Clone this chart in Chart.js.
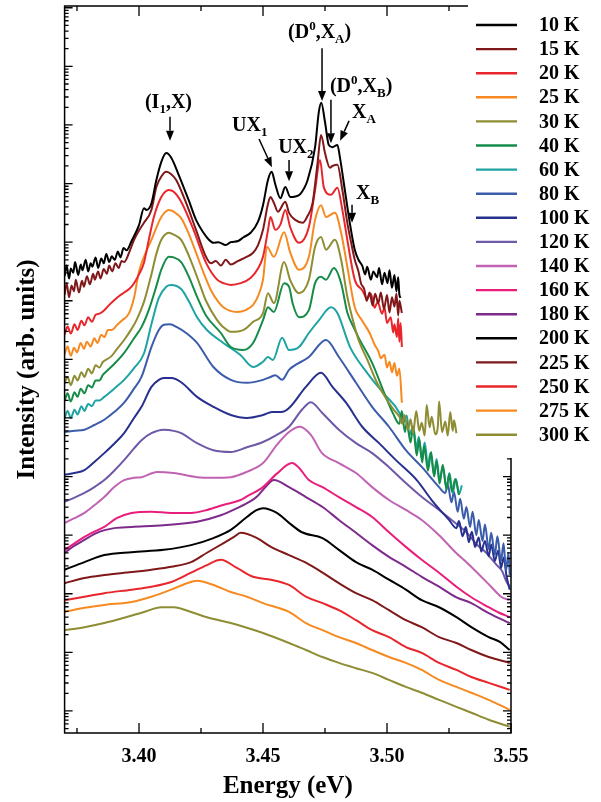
<!DOCTYPE html>
<html>
<head>
<meta charset="utf-8">
<script src="https://cdn.jsdelivr.net/npm/chart.js@4.4.1/dist/chart.umd.min.js"></script>
<style>
html, body { margin: 0; padding: 0; background: #fff; }
#chart { display: block; }
</style>
</head>
<body>
<canvas id="chart" width="601" height="802"></canvas>
<script>
// PL spectra, [energy (eV), log10 intensity (arb. units)]
const k10 = [[3.370,8.42],[3.3708,8.60],[3.3718,8.38],[3.3725,8.55],[3.3735,8.48],[3.3742,8.66],[3.3755,8.44],[3.3765,8.62],[3.3772,8.52],[3.3785,8.70],[3.3795,8.50],[3.3805,8.64],[3.3812,8.58],[3.3825,8.74],[3.3835,8.56],[3.3848,8.72],[3.3858,8.64],[3.3868,8.80],[3.388,8.66],[3.389,8.76],[3.3902,8.70],[3.3915,8.84],[3.3925,8.74],[3.3938,8.90],[3.395,8.86],[3.397,9.02],[3.400,9.29],[3.402,9.58],[3.403,9.55],[3.405,9.66],[3.407,10.06],[3.409,10.37],[3.411,10.52],[3.413,10.44],[3.416,10.15],[3.420,9.72],[3.423,9.38],[3.426,9.16],[3.428,9.05],[3.430,8.99],[3.432,9.00],[3.435,8.95],[3.437,9.00],[3.440,9.02],[3.442,9.08],[3.445,9.16],[3.448,9.35],[3.450,9.63],[3.452,10.06],[3.4535,10.20],[3.455,9.98],[3.457,9.75],[3.459,9.94],[3.461,9.77],[3.463,9.78],[3.465,9.82],[3.468,10.06],[3.471,10.62],[3.4725,11.22],[3.4735,11.38],[3.475,11.05],[3.4765,10.66],[3.478,10.62],[3.480,10.66],[3.481,10.45],[3.483,9.89],[3.485,9.33],[3.487,8.87],[3.4885,8.70],[3.490,8.60],[3.4912,8.45],[3.492,8.58],[3.4935,8.36],[3.4945,8.50],[3.496,8.40],[3.4968,8.56],[3.498,8.28],[3.499,8.48],[3.5002,8.30],[3.501,8.52],[3.502,8.22],[3.503,8.44],[3.5038,8.16],[3.5045,8.40],[3.505,8.10],[3.5055,8.05]];
const k15 = [[3.370,8.10],[3.3708,8.30],[3.3718,8.06],[3.3728,8.26],[3.3738,8.16],[3.3745,8.36],[3.3758,8.14],[3.377,8.34],[3.3778,8.24],[3.379,8.42],[3.3802,8.28],[3.3815,8.46],[3.3822,8.36],[3.3835,8.50],[3.3845,8.38],[3.3858,8.54],[3.387,8.46],[3.388,8.60],[3.3892,8.50],[3.3905,8.64],[3.3918,8.56],[3.393,8.68],[3.394,8.66],[3.396,8.82],[3.398,9.04],[3.400,9.20],[3.402,9.33],[3.405,9.55],[3.407,9.94],[3.409,10.12],[3.411,10.20],[3.413,10.16],[3.415,10.06],[3.419,9.67],[3.423,9.21],[3.427,8.75],[3.429,8.64],[3.431,8.68],[3.433,8.60],[3.435,8.70],[3.437,8.62],[3.440,8.68],[3.443,8.74],[3.446,8.82],[3.448,8.95],[3.450,9.21],[3.452,9.65],[3.453,9.77],[3.4545,9.66],[3.456,9.52],[3.459,9.69],[3.4605,9.50],[3.463,9.38],[3.466,9.33],[3.468,9.45],[3.470,9.67],[3.472,10.35],[3.4734,10.83],[3.475,10.52],[3.477,10.27],[3.478,10.30],[3.480,10.32],[3.482,9.89],[3.484,9.33],[3.4855,9.00],[3.487,8.70],[3.4885,8.50],[3.4895,8.30],[3.4908,8.20],[3.4918,8.00],[3.493,8.14],[3.4942,7.92],[3.4952,8.12],[3.4965,7.96],[3.4975,8.14],[3.4988,7.86],[3.500,8.10],[3.501,7.80],[3.502,8.06],[3.503,7.90],[3.5038,8.12],[3.5045,7.75],[3.505,8.00],[3.506,7.79]];
const k20 = [[3.370,7.42],[3.3712,7.56],[3.3725,7.44],[3.374,7.60],[3.3752,7.50],[3.3768,7.66],[3.378,7.58],[3.3795,7.72],[3.381,7.64],[3.3825,7.76],[3.384,7.78],[3.386,7.84],[3.388,7.93],[3.390,8.01],[3.392,8.08],[3.394,8.14],[3.397,8.24],[3.400,8.45],[3.402,8.65],[3.404,9.05],[3.406,9.43],[3.409,9.77],[3.412,9.89],[3.414,9.86],[3.417,9.69],[3.422,9.21],[3.427,8.65],[3.4315,8.36],[3.434,8.30],[3.437,8.27],[3.441,8.30],[3.445,8.39],[3.448,8.55],[3.450,8.75],[3.452,9.20],[3.453,9.43],[3.455,9.21],[3.457,9.30],[3.459,9.55],[3.461,9.25],[3.4645,8.99],[3.4685,9.26],[3.471,9.89],[3.473,10.40],[3.4745,9.94],[3.4774,9.81],[3.480,9.93],[3.482,9.55],[3.484,9.04],[3.487,8.36],[3.490,8.18],[3.492,8.04],[3.4935,8.12],[3.495,7.88],[3.4962,7.98],[3.498,7.78],[3.499,7.88],[3.500,7.62],[3.5015,7.72],[3.5025,7.46],[3.503,7.60],[3.504,7.38],[3.5045,7.70],[3.505,7.30],[3.5055,7.62],[3.506,7.21]];
const k25 = [[3.370,7.09],[3.3712,7.22],[3.3725,7.06],[3.3738,7.20],[3.375,7.12],[3.3765,7.28],[3.3778,7.18],[3.379,7.30],[3.3805,7.22],[3.382,7.36],[3.3832,7.28],[3.3848,7.42],[3.386,7.38],[3.3875,7.50],[3.389,7.50],[3.391,7.58],[3.393,7.66],[3.396,7.79],[3.398,8.05],[3.400,8.50],[3.403,8.85],[3.405,9.04],[3.409,9.43],[3.412,9.55],[3.414,9.52],[3.417,9.41],[3.420,9.15],[3.423,8.82],[3.426,8.48],[3.429,8.18],[3.432,7.98],[3.434,7.89],[3.4395,7.81],[3.443,7.84],[3.446,7.93],[3.448,8.08],[3.450,8.36],[3.4516,8.92],[3.4544,8.75],[3.4585,9.17],[3.461,8.82],[3.4645,8.53],[3.4685,8.75],[3.471,9.38],[3.4734,9.63],[3.4754,9.43],[3.479,9.50],[3.4815,9.16],[3.484,8.58],[3.487,7.89],[3.490,7.66],[3.493,7.45],[3.495,7.25],[3.4965,7.14],[3.4975,7.02],[3.499,7.08],[3.500,6.86],[3.501,6.96],[3.502,6.78],[3.503,6.94],[3.504,6.72],[3.505,6.84],[3.506,6.26]];
const k30 = [[3.370,6.59],[3.3712,6.70],[3.3725,6.56],[3.374,6.72],[3.3752,6.64],[3.3768,6.78],[3.378,6.70],[3.3795,6.84],[3.381,6.76],[3.3825,6.90],[3.384,6.86],[3.3855,6.96],[3.387,7.00],[3.389,7.06],[3.391,7.17],[3.394,7.33],[3.397,7.52],[3.399,7.67],[3.402,7.98],[3.405,8.45],[3.407,8.80],[3.409,9.04],[3.412,9.16],[3.414,9.13],[3.417,9.04],[3.420,8.78],[3.4234,8.41],[3.427,8.00],[3.4315,7.67],[3.434,7.55],[3.437,7.47],[3.442,7.50],[3.446,7.64],[3.450,7.79],[3.452,8.13],[3.4544,7.96],[3.4585,8.66],[3.461,8.35],[3.4645,8.13],[3.4685,8.36],[3.471,8.92],[3.4734,9.09],[3.4754,8.87],[3.479,9.04],[3.4815,8.70],[3.484,8.07],[3.487,7.55],[3.4888,7.30],[3.492,7.00],[3.496,6.60],[3.500,6.31],[3.5025,6.15],[3.505,6.02],[3.5062,5.90],[3.507,6.05],[3.5085,5.80],[3.5095,5.98],[3.5105,5.74],[3.5118,6.12],[3.513,5.78],[3.514,5.92],[3.5152,5.70],[3.516,6.22],[3.5172,5.84],[3.518,6.02],[3.5195,5.72],[3.5205,5.86],[3.521,6.28],[3.5222,5.76],[3.5235,5.94],[3.5245,5.70],[3.5255,6.10],[3.5265,5.78],[3.527,5.96],[3.528,5.74]];
const k40 = [[3.370,6.29],[3.3712,6.42],[3.3725,6.28],[3.374,6.44],[3.3752,6.36],[3.3765,6.50],[3.378,6.42],[3.3795,6.56],[3.381,6.52],[3.3825,6.64],[3.384,6.64],[3.3855,6.74],[3.387,6.80],[3.390,6.92],[3.394,7.11],[3.398,7.36],[3.401,7.55],[3.404,7.85],[3.407,8.25],[3.409,8.53],[3.412,8.75],[3.414,8.74],[3.417,8.66],[3.420,8.42],[3.4234,8.07],[3.427,7.75],[3.433,7.45],[3.437,7.21],[3.442,7.16],[3.446,7.28],[3.450,7.67],[3.452,7.89],[3.4544,7.81],[3.4585,8.30],[3.4605,8.24],[3.462,7.95],[3.4645,7.72],[3.4685,7.84],[3.471,8.30],[3.4734,8.41],[3.4754,8.36],[3.4786,8.56],[3.4815,8.30],[3.484,7.80],[3.4865,7.55],[3.4888,7.35],[3.494,6.94],[3.4995,6.36],[3.5024,6.08],[3.505,5.90],[3.506,6.12],[3.5072,5.76],[3.508,5.92],[3.5095,5.58],[3.5105,5.84],[3.512,5.36],[3.513,5.64],[3.5142,5.24],[3.515,5.52],[3.5165,5.10],[3.5178,5.42],[3.519,5.00],[3.520,5.26],[3.5212,4.88],[3.5225,5.20],[3.524,4.78],[3.525,5.04],[3.5262,4.74],[3.5275,4.96],[3.529,4.69]];
const k60 = [[3.370,6.00],[3.3712,6.12],[3.3725,6.00],[3.374,6.14],[3.3752,6.06],[3.3768,6.20],[3.378,6.12],[3.3795,6.24],[3.381,6.20],[3.3825,6.30],[3.384,6.30],[3.386,6.36],[3.390,6.50],[3.394,6.65],[3.398,6.85],[3.402,7.10],[3.405,7.60],[3.408,8.05],[3.411,8.24],[3.413,8.27],[3.417,8.20],[3.420,8.00],[3.4234,7.72],[3.4274,7.50],[3.434,7.28],[3.441,7.07],[3.446,6.87],[3.450,6.96],[3.452,7.04],[3.454,6.99],[3.4577,7.37],[3.4605,7.16],[3.4645,7.21],[3.4685,7.45],[3.4726,7.67],[3.4774,7.89],[3.480,7.79],[3.4851,7.21],[3.492,6.77],[3.4984,6.43],[3.505,6.09],[3.5065,5.92],[3.508,6.04],[3.509,5.70],[3.5105,5.86],[3.512,5.48],[3.5128,5.68],[3.514,5.30],[3.5152,5.58],[3.5165,5.18],[3.5175,5.40],[3.519,5.02],[3.520,5.30],[3.5212,4.94],[3.5225,5.16],[3.524,4.80],[3.5252,5.06],[3.5265,4.72],[3.5278,4.96],[3.529,4.70],[3.5302,4.85]];
const k80 = [[3.370,5.76],[3.374,5.78],[3.378,5.80],[3.382,5.88],[3.386,5.97],[3.390,6.10],[3.394,6.26],[3.398,6.50],[3.401,6.70],[3.405,7.21],[3.408,7.50],[3.410,7.59],[3.4125,7.60],[3.4153,7.55],[3.419,7.45],[3.4234,7.28],[3.430,6.87],[3.437,6.65],[3.4435,6.60],[3.450,6.65],[3.453,6.70],[3.455,6.73],[3.4577,6.65],[3.4605,6.82],[3.4685,7.04],[3.4754,7.33],[3.4806,7.04],[3.4875,6.60],[3.494,6.19],[3.5008,5.85],[3.5076,5.45],[3.5141,5.16],[3.521,4.82],[3.5235,4.72],[3.5245,4.86],[3.526,4.56],[3.527,4.74],[3.5285,4.40],[3.5295,4.62],[3.531,4.28],[3.532,4.48],[3.5335,4.14],[3.5345,4.40],[3.536,4.00],[3.537,4.26],[3.5385,3.90],[3.5395,4.18],[3.541,3.76],[3.542,4.04],[3.5435,3.66],[3.5445,3.98],[3.546,3.56],[3.547,3.86],[3.548,3.40],[3.549,3.70],[3.5495,3.32]];
const k100 = [[3.370,5.03],[3.374,5.06],[3.378,5.11],[3.382,5.25],[3.386,5.40],[3.390,5.56],[3.394,5.74],[3.398,6.00],[3.401,6.19],[3.405,6.53],[3.408,6.65],[3.410,6.68],[3.413,6.68],[3.417,6.61],[3.4234,6.36],[3.430,6.19],[3.437,6.05],[3.4435,6.00],[3.450,6.05],[3.4536,6.10],[3.4573,6.10],[3.4605,6.17],[3.4673,6.53],[3.4734,6.77],[3.478,6.53],[3.4835,6.26],[3.490,5.85],[3.4968,5.57],[3.5036,5.28],[3.512,4.94],[3.518,4.60],[3.525,4.26],[3.528,4.12],[3.529,4.24],[3.5305,3.98],[3.5318,4.14],[3.533,3.88],[3.5342,4.06],[3.5355,3.80],[3.537,3.96],[3.538,3.72],[3.5395,3.90],[3.541,3.64],[3.542,3.84],[3.5435,3.56],[3.5448,3.74],[3.546,3.44],[3.547,3.62],[3.5482,3.30],[3.549,3.15],[3.5495,3.07]];
const k120 = [[3.370,4.57],[3.374,4.64],[3.378,4.72],[3.382,4.82],[3.386,4.94],[3.390,5.10],[3.394,5.28],[3.398,5.48],[3.401,5.62],[3.405,5.74],[3.410,5.80],[3.414,5.78],[3.417,5.74],[3.4234,5.57],[3.430,5.45],[3.437,5.42],[3.4435,5.50],[3.450,5.59],[3.4556,5.71],[3.4605,5.85],[3.4657,6.14],[3.4693,6.27],[3.4738,6.09],[3.4806,5.80],[3.4875,5.57],[3.494,5.40],[3.5008,5.16],[3.5076,4.89],[3.5141,4.65],[3.521,4.43],[3.5278,4.20],[3.532,4.05],[3.536,3.85],[3.540,3.70],[3.544,3.50],[3.5465,3.38],[3.548,3.22],[3.5495,3.12]];
const k140 = [[3.370,4.21],[3.374,4.29],[3.378,4.38],[3.382,4.51],[3.386,4.65],[3.390,4.82],[3.394,4.94],[3.398,4.98],[3.401,4.99],[3.4073,5.08],[3.414,5.06],[3.4234,4.99],[3.430,4.98],[3.437,4.99],[3.4435,5.08],[3.450,5.23],[3.4556,5.54],[3.4605,5.76],[3.4649,5.85],[3.4693,5.71],[3.4738,5.40],[3.4806,5.23],[3.4875,5.06],[3.494,4.82],[3.5008,4.60],[3.5076,4.43],[3.514,4.26],[3.521,4.00],[3.5278,3.70],[3.533,3.50],[3.538,3.29],[3.542,3.12],[3.546,2.95],[3.5495,2.89]];
const k160 = [[3.370,3.75],[3.374,3.86],[3.378,3.97],[3.382,4.06],[3.386,4.14],[3.391,4.29],[3.397,4.38],[3.405,4.40],[3.413,4.38],[3.421,4.38],[3.4274,4.43],[3.4343,4.52],[3.441,4.60],[3.4435,4.66],[3.450,4.82],[3.4556,5.05],[3.4617,5.23],[3.4645,5.15],[3.4685,4.94],[3.474,4.82],[3.4806,4.65],[3.4875,4.48],[3.494,4.31],[3.5008,4.05],[3.5076,3.80],[3.514,3.58],[3.521,3.36],[3.528,3.12],[3.534,2.94],[3.541,2.77],[3.545,2.68],[3.5495,2.60]];
const k180 = [[3.370,3.70],[3.374,3.82],[3.378,3.92],[3.383,4.04],[3.390,4.12],[3.397,4.14],[3.410,4.17],[3.4234,4.23],[3.433,4.34],[3.4395,4.46],[3.445,4.58],[3.4476,4.66],[3.451,4.82],[3.4544,4.94],[3.4605,4.82],[3.4673,4.65],[3.474,4.48],[3.4806,4.26],[3.4875,4.04],[3.494,3.83],[3.5008,3.63],[3.5076,3.46],[3.514,3.29],[3.521,3.12],[3.528,2.94],[3.534,2.84],[3.541,2.67],[3.5495,2.50]];
const k200 = [[3.370,3.41],[3.378,3.54],[3.386,3.66],[3.397,3.71],[3.410,3.75],[3.421,3.83],[3.430,3.95],[3.437,4.09],[3.4435,4.31],[3.4476,4.43],[3.450,4.46],[3.4556,4.38],[3.4605,4.21],[3.4657,4.05],[3.474,3.95],[3.4806,3.75],[3.4875,3.54],[3.494,3.41],[3.5008,3.24],[3.5076,3.07],[3.514,2.89],[3.521,2.77],[3.528,2.60],[3.534,2.43],[3.541,2.26],[3.5455,2.18],[3.5495,2.04]];
const k225 = [[3.370,3.18],[3.378,3.27],[3.386,3.32],[3.397,3.37],[3.405,3.41],[3.413,3.46],[3.421,3.54],[3.4274,3.70],[3.4343,3.87],[3.4383,3.97],[3.441,4.04],[3.4476,3.95],[3.4532,3.80],[3.4605,3.66],[3.4673,3.53],[3.474,3.36],[3.4806,3.18],[3.4875,3.01],[3.494,2.89],[3.5008,2.72],[3.5076,2.55],[3.514,2.43],[3.521,2.26],[3.528,2.16],[3.534,2.04],[3.541,1.92],[3.5495,1.82]];
const k250 = [[3.370,2.89],[3.378,2.95],[3.386,3.01],[3.397,3.07],[3.405,3.12],[3.413,3.20],[3.421,3.36],[3.4274,3.49],[3.433,3.58],[3.4395,3.44],[3.446,3.29],[3.4532,3.24],[3.4605,3.15],[3.4673,2.95],[3.474,2.84],[3.4806,2.72],[3.4875,2.55],[3.494,2.38],[3.5008,2.26],[3.5076,2.09],[3.514,1.99],[3.521,1.82],[3.528,1.70],[3.534,1.58],[3.541,1.48],[3.5495,1.36]];
const k275 = [[3.370,2.69],[3.378,2.76],[3.386,2.81],[3.397,2.86],[3.405,2.95],[3.413,3.07],[3.4194,3.18],[3.4234,3.22],[3.430,3.15],[3.437,3.03],[3.4435,2.95],[3.450,2.84],[3.4605,2.69],[3.4673,2.50],[3.474,2.38],[3.4806,2.26],[3.4875,2.16],[3.494,2.04],[3.5008,1.92],[3.5076,1.82],[3.514,1.70],[3.521,1.53],[3.528,1.41],[3.534,1.31],[3.541,1.19],[3.5495,1.02]];
const k300 = [[3.370,2.38],[3.378,2.43],[3.386,2.50],[3.394,2.59],[3.402,2.69],[3.409,2.77],[3.414,2.77],[3.421,2.69],[3.4274,2.60],[3.437,2.50],[3.4435,2.42],[3.450,2.33],[3.4605,2.16],[3.4673,2.04],[3.474,1.92],[3.4806,1.82],[3.4875,1.73],[3.494,1.65],[3.5008,1.53],[3.5076,1.41],[3.514,1.31],[3.521,1.19],[3.528,1.07],[3.534,0.97],[3.541,0.85],[3.5495,0.73]];

const temps = ['10 K','15 K','20 K','25 K','30 K','40 K','60 K','80 K','100 K','120 K','140 K','160 K','180 K','200 K','225 K','250 K','275 K','300 K'];
const colors = ['#000000','#80181a','#e8262b','#f68a21','#8e8d33','#168c48','#1fa3a3','#3b5cab','#27308e','#6f58a8','#c163b3','#e91e7c','#7d2a8c','#000000','#80181a','#e8262b','#f68a21','#8e8d33'];
const series = [k10,k15,k20,k25,k30,k40,k60,k80,k100,k120,k140,k160,k180,k200,k225,k250,k275,k300];
const xTicks = [3.40, 3.45, 3.50, 3.55];

// peak labels: text parts (0 normal, 1 sub, 2 sup), text start, arrow from/to (energy, log10 I)
const notes = [
  { parts: [['(I',0],['1',1],[',X)',0]], e: 3.4024, l: 11.29, arrow: [3.4125, 11.14, 3.4125, 10.73] },
  { parts: [['UX',0],['1',1]], e: 3.4375, l: 10.90, arrow: [3.4484, 10.76, 3.4536, 10.28] },
  { parts: [['UX',0],['2',1]], e: 3.4561, l: 10.52, arrow: [3.4605, 10.40, 3.4605, 10.04] },
  { parts: [['(D',0],['0',2],[',X',0],['A',1],[')',0]], e: 3.4601, l: 12.49, arrow: [3.4738, 12.31, 3.4738, 11.41] },
  { parts: [['(D',0],['0',2],[',X',0],['B',1],[')',0]], e: 3.4770, l: 11.56, arrow: [3.4774, 11.43, 3.4774, 10.69] },
  { parts: [['X',0],['A',1]], e: 3.4859, l: 11.12, arrow: [3.4847, 11.07, 3.4811, 10.73] },
  { parts: [['X',0],['B',1]], e: 3.4875, l: 9.74, arrow: [3.4859, 9.64, 3.4859, 9.33] }
];

const serif = '"Liberation Serif", "Times New Roman", serif';
const legendLeft = 468;   // frame is hidden behind the legend to the right of this
const legendBottom = 458;

const framePlugin = {
  id: 'frameTicks',
  afterDatasetsDraw(chart) {
    const { ctx, chartArea: a, scales: { x, y } } = chart;
    ctx.save();
    ctx.strokeStyle = '#000';
    ctx.lineWidth = 1.5;
    ctx.beginPath();
    ctx.moveTo(legendLeft, a.top); ctx.lineTo(a.left, a.top); ctx.lineTo(a.left, a.bottom);
    ctx.lineTo(a.right, a.bottom); ctx.lineTo(a.right, legendBottom);
    ctx.stroke();

    ctx.lineWidth = 1.3;
    ctx.beginPath();
    for (let i = 0; i <= 7; i++) {
      const px = x.getPixelForValue(3.375 + i * 0.025);
      const len = i % 2 === 1 ? 10 : 5;
      ctx.moveTo(px, a.bottom); ctx.lineTo(px, a.bottom - len);
      if (px < legendLeft) { ctx.moveTo(px, a.top); ctx.lineTo(px, a.top + len); }
    }
    for (let n = 0; n <= 13; n++) {
      for (let m = 1; m <= 9; m++) {
        const v = m * Math.pow(10, n);
        if (v < y.min || v > y.max) continue;
        const py = y.getPixelForValue(v);
        const len = m === 1 ? 8 : 4;
        ctx.moveTo(a.left, py); ctx.lineTo(a.left + len, py);
        if (py > legendBottom) { ctx.moveTo(a.right, py); ctx.lineTo(a.right - len, py); }
      }
    }
    ctx.stroke();
    ctx.restore();
  }
};

function drawRich(ctx, parts, x, y) {
  let cx = x;
  ctx.textAlign = 'left';
  ctx.textBaseline = 'alphabetic';
  parts.forEach(([t, mode]) => {
    ctx.font = mode === 0 ? 'bold 20px ' + serif : 'bold 13px ' + serif;
    const dy = mode === 1 ? 5 : mode === 2 ? -8 : 0;
    ctx.fillText(t, cx, y + dy);
    cx += ctx.measureText(t).width;
  });
}

function drawArrow(ctx, x1, y1, x2, y2) {
  const ang = Math.atan2(y2 - y1, x2 - x1);
  const hl = 10, hw = 4;
  const bx = x2 - hl * Math.cos(ang), by = y2 - hl * Math.sin(ang);
  ctx.beginPath();
  ctx.moveTo(x1, y1); ctx.lineTo(bx, by);
  ctx.stroke();
  ctx.beginPath();
  ctx.moveTo(x2, y2);
  ctx.lineTo(bx + hw * Math.sin(ang), by - hw * Math.cos(ang));
  ctx.lineTo(bx - hw * Math.sin(ang), by + hw * Math.cos(ang));
  ctx.closePath();
  ctx.fill();
}

const notesPlugin = {
  id: 'peakNotes',
  afterDraw(chart) {
    const { ctx, scales: { x, y } } = chart;
    ctx.save();
    ctx.fillStyle = '#000';
    ctx.strokeStyle = '#000';
    ctx.lineWidth = 1.5;
    notes.forEach(n => {
      drawRich(ctx, n.parts, x.getPixelForValue(n.e), y.getPixelForValue(Math.pow(10, n.l)));
      const [e1, l1, e2, l2] = n.arrow;
      drawArrow(ctx, x.getPixelForValue(e1), y.getPixelForValue(Math.pow(10, l1)),
                x.getPixelForValue(e2), y.getPixelForValue(Math.pow(10, l2)));
    });
    ctx.restore();
  }
};

const legendPlugin = {
  id: 'sideLegend',
  afterDraw(chart) {
    const { ctx } = chart;
    ctx.save();
    ctx.textAlign = 'left';
    ctx.textBaseline = 'middle';
    ctx.font = 'bold 20px ' + serif;
    chart.data.datasets.forEach((ds, i) => {
      const yy = 25 + i * 24.1;
      ctx.strokeStyle = ds.borderColor;
      ctx.lineWidth = 2.4;
      ctx.beginPath();
      ctx.moveTo(476, yy); ctx.lineTo(517, yy);
      ctx.stroke();
      ctx.fillStyle = '#000';
      ctx.fillText(ds.label, 539, yy + 1);
    });
    ctx.restore();
  }
};

const datasets = series.map((pts, i) => ({
  label: temps[i],
  data: pts.map(([e, l]) => ({ x: e, y: Math.pow(10, l) })),
  borderColor: colors[i],
  borderWidth: 2,
  pointRadius: 0,
  fill: false,
  cubicInterpolationMode: 'monotone'
}));

new Chart(document.getElementById('chart').getContext('2d'), {
  type: 'line',
  data: { datasets },
  options: {
    responsive: false,
    animation: false,
    layout: { padding: { top: 6, right: 90, left: 0, bottom: 0 } },
    plugins: { legend: { display: false }, tooltip: { enabled: false } },
    scales: {
      x: {
        type: 'linear',
        min: 3.37,
        max: 3.55,
        afterBuildTicks: s => { s.ticks = xTicks.map(v => ({ value: v })); },
        afterFit: s => { s.height = 69; },
        grid: { display: false, drawTicks: false },
        border: { display: false },
        ticks: {
          padding: 12, color: '#000', maxRotation: 0, autoSkip: false,
          font: { family: serif, weight: 'bold', size: 20 },
          callback: v => Number(v).toFixed(2)
        },
        title: {
          display: true, text: 'Energy (eV)', color: '#000',
          font: { family: serif, weight: 'bold', size: 25 },
          padding: { top: 0, bottom: 0 }
        }
      },
      y: {
        type: 'logarithmic',
        min: Math.pow(10, 0.624),
        max: Math.pow(10, 13.03),
        afterFit: s => { s.width = 64.6; },
        grid: { display: false },
        border: { display: false },
        ticks: { display: false },
        title: {
          display: true, text: 'Intensity (arb. units)', color: '#000',
          font: { family: serif, weight: 'bold', size: 25 },
          padding: { top: 13, bottom: 0 }
        }
      }
    }
  },
  plugins: [framePlugin, notesPlugin, legendPlugin]
});
</script>
</body>
</html>
